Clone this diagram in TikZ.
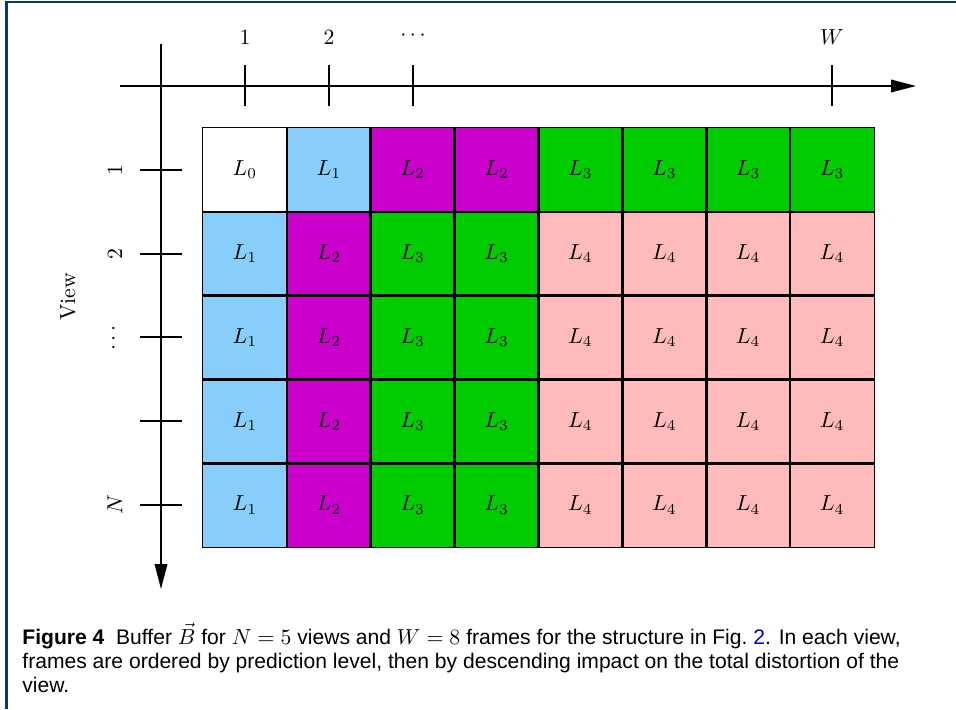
\documentclass[tikz,border=0pt]{standalone}
\usepackage{fontspec}
\setsansfont{Liberation Sans}
\usetikzlibrary{arrows.meta}
\definecolor{frameblue}{RGB}{8,56,104}
\definecolor{lev0}{RGB}{255,255,255}
\definecolor{lev1}{RGB}{135,206,250}
\definecolor{lev2}{RGB}{204,0,204}
\definecolor{lev3}{RGB}{0,204,0}
\definecolor{lev4}{RGB}{255,187,187}
\definecolor{linkblue}{RGB}{0,0,230}
\tikzset{
  cell/.style={inner sep=0pt, minimum width=38.58pt, minimum height=38.55pt},
  cellborder/.style={draw=black, line width=0.8pt},
  axis/.style={line width=0.7pt, -{Triangle[length=11.5pt,width=5.8pt]}},
  tick/.style={line width=0.7pt},
  ticklabel/.style={inner sep=0pt},
}
\begin{document}
\begin{tikzpicture}[x=0.46pt,y=-0.46pt]
\useasboundingbox (0,0) rectangle (956,709);
% frame
\draw[frameblue, line width=1.3pt] (6.5,709) -- (6.5,2) -- (956,2);
% cells
\foreach \l [count=\c] in {0,1,2,2,3,3,3,3} {
  \node[cell, fill=lev\l] (c1-\c) at ({203+83.875*(\c-0.5)},{128+83.8*0.5}) {$L_{\l}$};
}
\foreach \r in {2,3,4,5} {
  \foreach \l [count=\c] in {1,2,3,3,4,4,4,4} {
    \node[cell, fill=lev\l] (c\r-\c) at ({203+83.875*(\c-0.5)},{128+83.8*(\r-0.5)}) {$L_{\l}$};
  }
}
\foreach \r in {1,...,5} {
  \foreach \c in {1,...,8} {
    \draw[cellborder] (c\r-\c.south west) rectangle (c\r-\c.north east);
  }
}
% horizontal axis
\coordinate (hs) at (120,86);
\coordinate (he) at (916,86);
\draw[axis] (hs) -- (he);
\foreach \x/\n in {245/a,329/b,413/c,832/d} {
  \coordinate (ht\n1) at (\x,65);
  \coordinate (ht\n2) at (\x,106);
  \draw[tick] (ht\n1) -- (ht\n2);
}
\node[ticklabel] (hl1) at (245,37) {$1$};
\node[ticklabel] (hl2) at (329,37) {$2$};
\node[ticklabel] (hl3) at (413,36) {$\cdots$};
\node[ticklabel] (hl4) at (832,37) {$W$};
% vertical axis
\coordinate (vs) at (161,44);
\coordinate (ve) at (161,589);
\draw[axis] (vs) -- (ve);
\foreach \y/\n in {170/a,254/b,337/c,421/d,505/e} {
  \coordinate (vt\n1) at (140,\y);
  \coordinate (vt\n2) at (182,\y);
  \draw[tick] (vt\n1) -- (vt\n2);
}
\node[ticklabel, rotate=90] (vl1) at (115,170) {$1$};
\node[ticklabel, rotate=90] (vl2) at (115,254) {$2$};
\node[ticklabel, rotate=90] (vl3) at (114,338) {$\cdots$};
\node[ticklabel, rotate=90] (vl5) at (115,505) {$N$};
\node[ticklabel, rotate=90] (view) at (68,297) {View};
% caption
\node[anchor=north west, inner sep=0pt, align=left,
  font=\sffamily\fontsize{9.7}{11}\selectfont] (cap) at (22,623)
  {\textbf{Figure 4}\ \ Buffer $\vec{B}$ for $N=5$ views and $W=8$ frames for the structure in Fig.~\textcolor{linkblue}{2}. In each view,\\
   frames are ordered by prediction level, then by descending impact on the total distortion of the\\
   view.};
\end{tikzpicture}
\end{document}
